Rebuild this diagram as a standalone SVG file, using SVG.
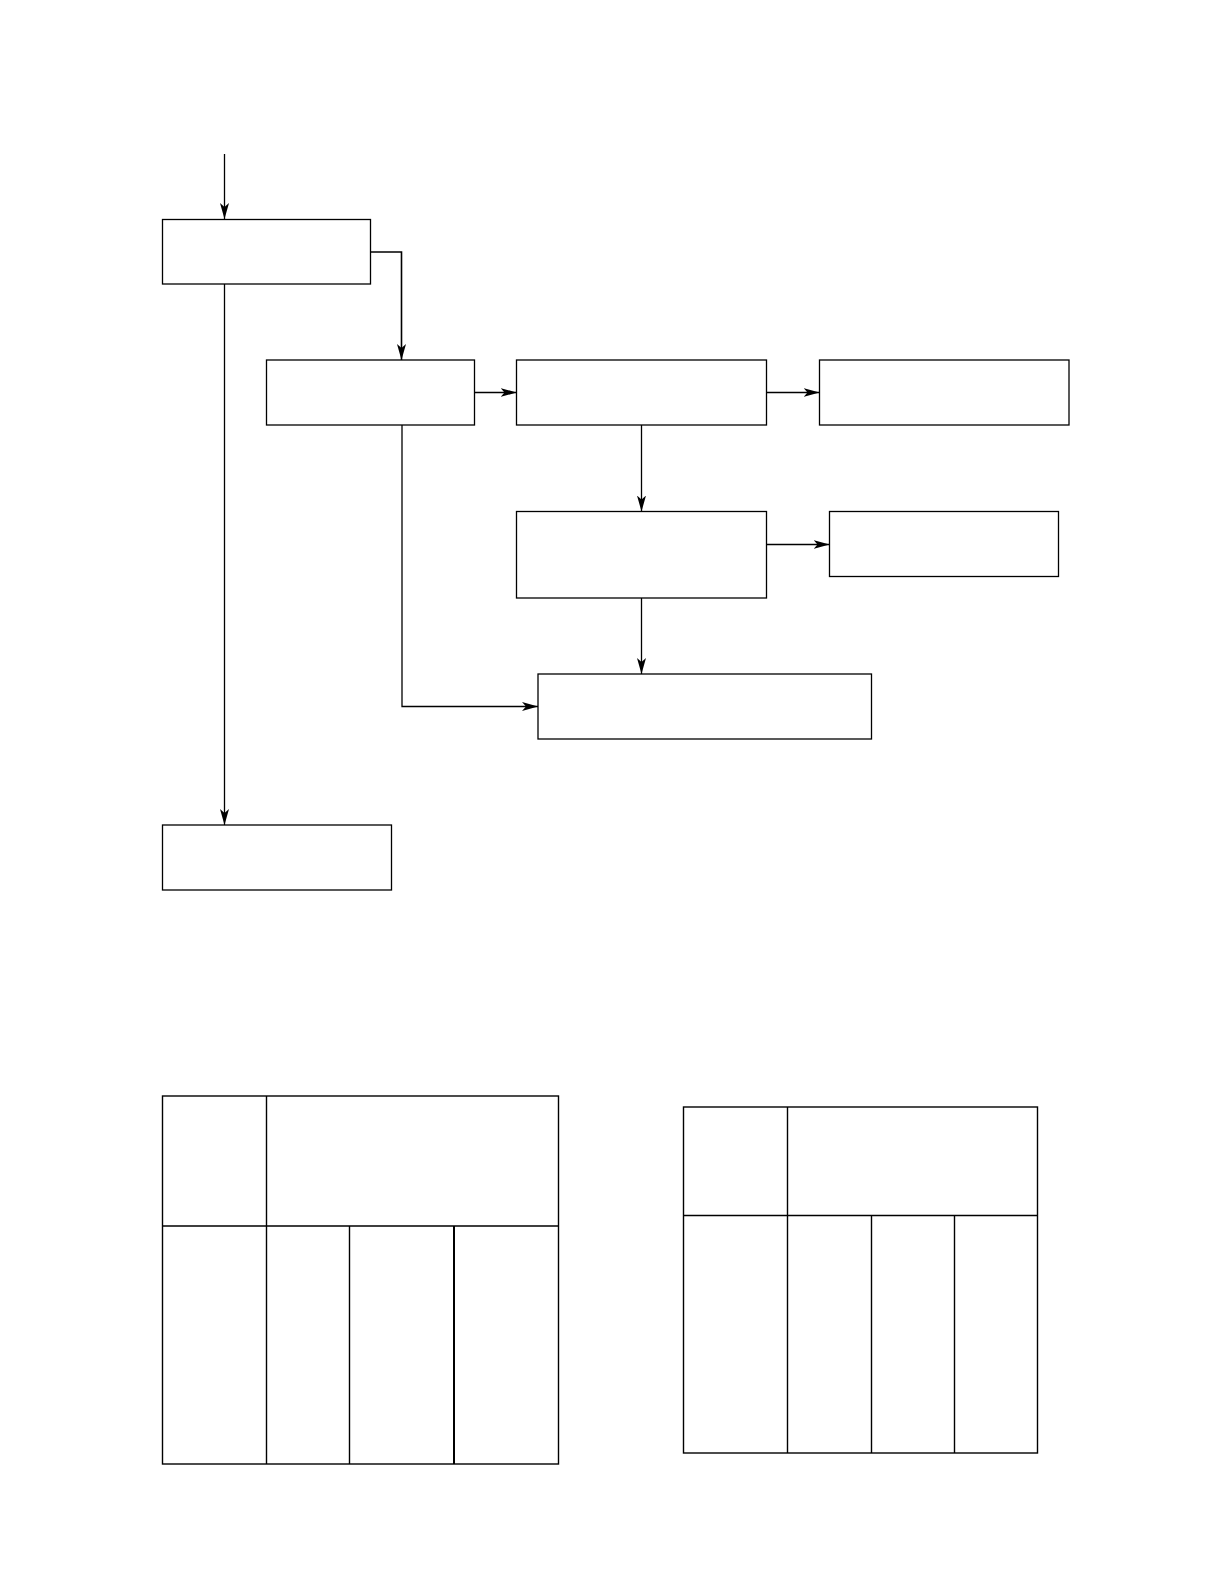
<svg xmlns="http://www.w3.org/2000/svg" width="1224" height="1584" viewBox="0 0 1224 1584">
<style>
.box{fill:#fff;stroke:#000;stroke-width:1.3}
.ln{fill:none;stroke:#000;stroke-width:1.3}
.cell{fill:none;stroke:#000;stroke-width:1.4}
</style>
<defs>
<marker id="ah" markerUnits="userSpaceOnUse" markerWidth="18" markerHeight="12" refX="16" refY="0" viewBox="0 -6 18 12" orient="auto">
<path d="M0,-4.5 L16,0 L0,4.5 L4,0 z" fill="#000"/>
</marker>
</defs>
<rect width="1224" height="1584" fill="#fff"/>
<g id="connectors">
<path class="ln" d="M224.5,154 V219" marker-end="url(#ah)"/>
<path class="ln" d="M370.5,252 H401.5 V360" marker-end="url(#ah)" style="stroke-width:1.6"/>
<path class="ln" d="M224.5,284 V825" marker-end="url(#ah)"/>
<path class="ln" d="M474.5,392.5 H516.5" marker-end="url(#ah)"/>
<path class="ln" d="M766.5,392.5 H819.5" marker-end="url(#ah)"/>
<path class="ln" d="M641.5,425 V511.5" marker-end="url(#ah)"/>
<path class="ln" d="M766.5,544.5 H829.5" marker-end="url(#ah)"/>
<path class="ln" d="M641.5,598 V674" marker-end="url(#ah)"/>
<path class="ln" d="M402,425 V706.5 H538" marker-end="url(#ah)"/>
</g>
<g id="n1"><rect class="box" x="162.5" y="219.5" width="208" height="64.5"/></g>
<g id="n2"><rect class="box" x="266.5" y="360" width="208" height="65"/></g>
<g id="n3"><rect class="box" x="516.5" y="360" width="250" height="65"/></g>
<g id="n4"><rect class="box" x="819.5" y="360" width="249.5" height="65"/></g>
<g id="n5"><rect class="box" x="516.5" y="511.5" width="250" height="86.5"/></g>
<g id="n6"><rect class="box" x="829.5" y="511.5" width="229" height="65"/></g>
<g id="n7"><rect class="box" x="538" y="674" width="333.5" height="65"/></g>
<g id="n8"><rect class="box" x="162.5" y="825" width="229" height="65"/></g>
<g id="table1">
<rect class="cell" x="162.5" y="1096" width="396" height="368"/>
<path class="cell" d="M266.5,1096 V1464 M162.5,1226 H558.5 M349.5,1226 V1464"/>
<path class="cell" d="M454,1226 V1464" style="stroke-width:2"/>
</g>
<g id="table2">
<rect class="cell" x="683.5" y="1107" width="354" height="346"/>
<path class="cell" d="M787.5,1107 V1453 M683.5,1215.5 H1037.5 M871.5,1215.5 V1453 M954.5,1215.5 V1453"/>
</g>
</svg>
